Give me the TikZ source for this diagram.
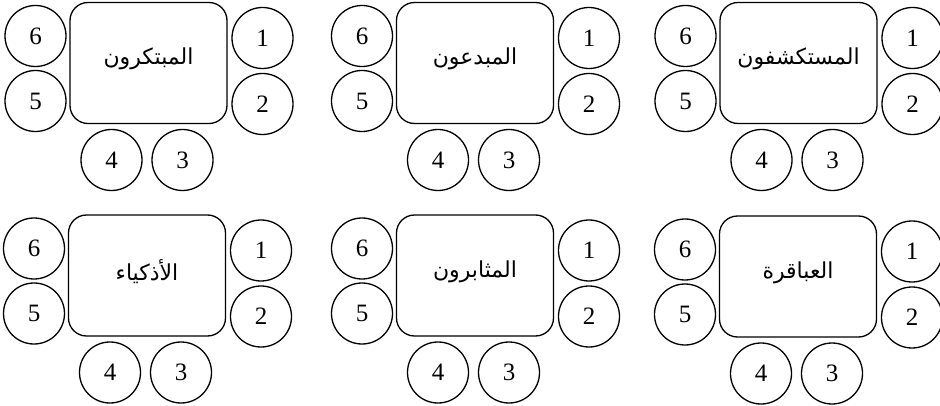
\documentclass[tikz,border=0pt]{standalone}
\usepackage{fontspec}
\setmainfont{Liberation Serif}
\newfontfamily\arabicfont[Script=Arabic]{DejaVu Sans}
\TeXXeTstate=1
\tikzset{
  seat/.style={circle, draw, line width=1.3pt, minimum size=61pt, inner sep=0pt,
    font=\fontsize{25}{25}\selectfont},
  tablebox/.style={draw, rounded corners=18pt, line width=1.3pt,
    minimum width=157pt, minimum height=121pt, inner sep=0pt},
  grouplabel/.style={inner sep=0pt, font=\arabicfont\fontsize{22}{24}\selectfont}
}
\newcommand{\seatgroup}[4]{%
  \node[tablebox] (#1t) at (#2,#3) {};
  \node[grouplabel] (#1l) at ({#2},{#3-4}) {\beginR #4\endR};
  \node[seat] (#1s6) at ({#2-113},{#3-27}) {6};
  \node[seat] (#1s5) at ({#2-113},{#3+38}) {5};
  \node[seat] (#1s1) at ({#2+114},{#3-25}) {1};
  \node[seat] (#1s2) at ({#2+114},{#3+41}) {2};
  \node[seat] (#1s4) at ({#2-37},{#3+97}) {4};
  \node[seat] (#1s3) at ({#2+34},{#3+97}) {3};
}
\begin{document}
\begin{tikzpicture}[x=1pt,y=-1pt]
\useasboundingbox (0,0) rectangle (940,406);
\seatgroup{a}{148.5}{63}{المبتكرون}
\seatgroup{b}{475}{63}{المبدعون}
\seatgroup{c}{798.5}{63}{المستكشفون}
\seatgroup{d}{147}{275.5}{الأذكياء}
\seatgroup{e}{475}{275.5}{المثابرون}
\seatgroup{f}{798}{276.5}{العباقرة}
\end{tikzpicture}
\end{document}
